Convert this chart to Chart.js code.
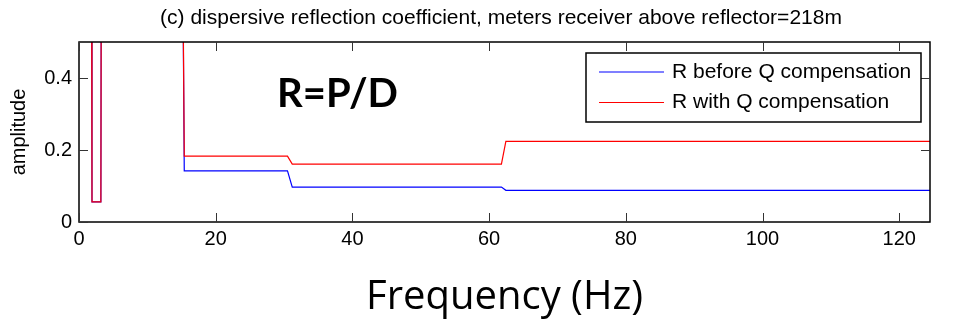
<!DOCTYPE html>
<html>
<head>
<meta charset="utf-8">
<script src="https://cdn.jsdelivr.net/npm/chart.js@4"></script>
<style>
  html, body { margin: 0; padding: 0; background: #fff; }
  #wrap { width: 953px; height: 325px; }
</style>
</head>
<body>
<div id="wrap"><canvas id="chart" width="953" height="325"></canvas></div>
<script>
const freq = [1.8, 1.9, 3.2, 3.3, 15.0, 15.4, 30.5, 31.2, 61.8, 62.45, 124.5];
const before = [1.2, 0.056, 0.056, 1.2, 1.2, 0.142, 0.142, 0.097, 0.097, 0.088, 0.088];
const withQ = [1.2, 0.056, 0.056, 1.2, 1.2, 0.183, 0.183, 0.161, 0.161, 0.224, 0.224];
const xTicks = [0, 20, 40, 60, 80, 100, 120];
const yTicks = [0, 0.2, 0.4];
const names = ['R before Q compensation', 'R with Q compensation'];
const title = '(c) dispersive reflection coefficient, meters receiver above reflector=218m';

const mfont = '"Liberation Sans", Arial, sans-serif';

const toPts = (ys) => freq.map((f, i) => ({ x: f, y: ys[i] }));

// matlab style box with inward ticks, title, legend box and the note
const matlabBits = {
  id: 'matlabBits',
  afterDraw(chart) {
    const c = chart.ctx;
    const a = chart.chartArea;
    const sx = chart.scales.x, sy = chart.scales.y;
    c.save();
    c.strokeStyle = '#000';
    c.lineWidth = 1.5;
    c.strokeRect(a.left, a.top, a.right - a.left, a.bottom - a.top);
    c.lineWidth = 1;
    c.strokeStyle = '#333';
    const tl = 9;
    c.beginPath();
    xTicks.forEach(v => {
      const px = Math.round(sx.getPixelForValue(v)) + 0.5;
      c.moveTo(px, a.bottom); c.lineTo(px, a.bottom - tl);
      c.moveTo(px, a.top); c.lineTo(px, a.top + tl);
    });
    yTicks.forEach(v => {
      const py = Math.round(sy.getPixelForValue(v)) + 0.5;
      c.moveTo(a.left, py); c.lineTo(a.left + tl, py);
      c.moveTo(a.right, py); c.lineTo(a.right - tl, py);
    });
    c.stroke();

    // title
    c.fillStyle = '#000';
    c.font = '21px ' + mfont;
    c.textAlign = 'center';
    c.textBaseline = 'alphabetic';
    c.fillText(title, 501, 24);

    // note
    c.font = 'bold 40px Lato, sans-serif';
    c.textAlign = 'left';
    c.fillText('R=P/D', 277, 107);

    // legend
    const bx = 586, by = 53, bw = 335, bh = 69;
    c.fillStyle = '#fff';
    c.fillRect(bx, by, bw, bh);
    c.strokeStyle = '#000';
    c.lineWidth = 1.5;
    c.strokeRect(bx, by, bw, bh);
    const rows = [72, 102.5];
    chart.data.datasets.forEach((ds, i) => {
      c.strokeStyle = ds.borderColor;
      c.lineWidth = 1.2;
      c.beginPath();
      c.moveTo(599, rows[i]); c.lineTo(664, rows[i]);
      c.stroke();
      c.fillStyle = '#000';
      c.font = '21px ' + mfont;
      c.textBaseline = 'middle';
      c.fillText(ds.label, 672, rows[i]);
    });
    c.restore();
  }
};

const ctx = document.getElementById('chart');

const chart = new Chart(ctx, {
  type: 'line',
  data: {
    datasets: [{
      label: names[0],
      data: toPts(before),
      borderColor: '#0000ff',
      borderWidth: 1.2,
      pointRadius: 0,
      tension: 0,
      order: 1
    }, {
      label: names[1],
      data: toPts(withQ),
      borderColor: '#ff0000',
      borderWidth: 1.2,
      pointRadius: 0,
      tension: 0,
      order: 0
    }]
  },
  options: {
    responsive: false,
    animation: false,
    devicePixelRatio: 1,
    layout: { padding: { top: 42, right: 23, left: 0, bottom: 0 } },
    scales: {
      x: {
        type: 'linear',
        min: 0,
        max: 124.5,
        afterBuildTicks: (s) => { s.ticks = xTicks.map(v => ({ value: v })); },
        afterFit: (s) => { s.height = 103; },
        grid: { display: false, drawTicks: false },
        border: { display: false },
        ticks: {
          autoSkip: false,
          maxRotation: 0,
          padding: 5,
          color: '#000',
          font: { family: mfont, size: 20 },
          callback: (v) => String(v)
        },
        title: {
          display: true,
          text: 'Frequency (Hz)',
          color: '#000',
          font: { family: '"Open Sans", sans-serif', size: 40 },
          padding: { top: 0, bottom: 3 }
        }
      },
      y: {
        min: 0,
        max: 0.5,
        afterBuildTicks: (s) => { s.ticks = yTicks.map(v => ({ value: v })); },
        afterFit: (s) => { s.width = 79; },
        grid: { display: false, drawTicks: false },
        border: { display: false },
        ticks: {
          autoSkip: false,
          padding: 7,
          color: '#000',
          font: { family: mfont, size: 20 },
          callback: (v) => String(v)
        },
        title: {
          display: true,
          text: 'amplitude',
          color: '#000',
          font: { family: mfont, size: 20 },
          padding: { top: 7, bottom: 0 }
        }
      }
    },
    plugins: {
      legend: { display: false },
      tooltip: { enabled: false }
    }
  },
  plugins: [matlabBits]
});
</script>
</body>
</html>
